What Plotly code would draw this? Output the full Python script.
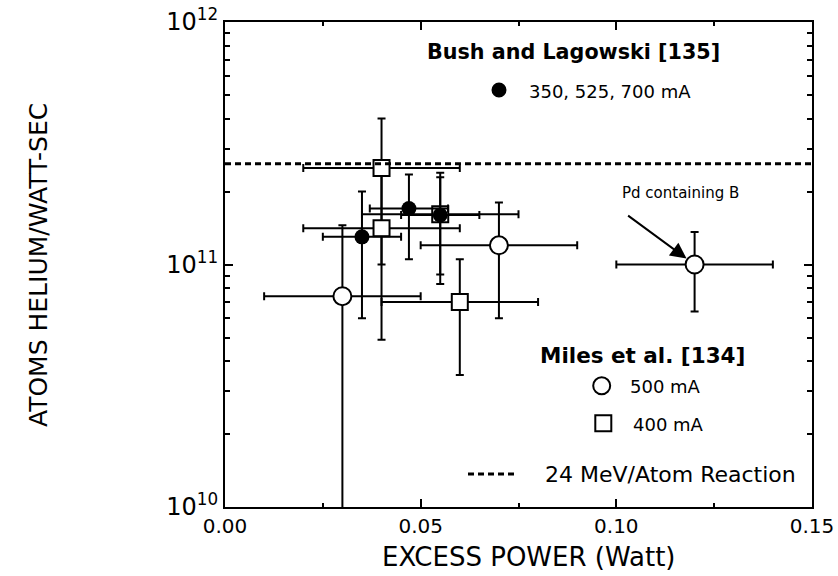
import numpy as np
import plotly.graph_objects as go

# ---- data ----
bush_x = [0.035, 0.047, 0.055]
bush_y = [1.30e11, 1.70e11, 1.60e11]
bush_ex = [0.01, 0.01, 0.01]
bush_ey = [0.70e11, 0.65e11, 0.69e11]

miles500_x = [0.030, 0.070, 0.120]
miles500_y = [7.4e10, 1.20e11, 1.00e11]
miles500_ex = [0.02, 0.02, 0.02]
miles500_ey = [7.1e10, 0.60e11, 0.36e11]

miles400_x = [0.040, 0.040, 0.055, 0.060]
miles400_y = [2.50e11, 1.41e11, 1.61e11, 7.0e10]
miles400_ex = [0.02, 0.02, 0.02, 0.02]
miles400_ey = [1.50e11, 0.92e11, 0.78e11, 0.35e11]

reaction_x = [0.0, 0.15]
reaction_y = [2.6e11, 2.6e11]

x_tickvals = [0.0, 0.05, 0.10, 0.15]
x_ticktext = ["0.00", "0.05", "0.10", "0.15"]
y_tickvals = [1e10, 1e11, 1e12]
y_ticktext = ["10<sup>10</sup>", "10<sup>11</sup>", "10<sup>12</sup>"]
y_minor = [m * 10.0 ** e for e in (10, 11) for m in range(2, 10)]

FONT = "DejaVu Sans"

fig = go.Figure()

def err(arr, thick=2, w=4):
    return dict(type="data", array=arr, visible=True, color="black",
                thickness=thick, width=w)

fig.add_trace(go.Scatter(
    x=miles400_x, y=miles400_y, mode="markers",
    error_x=err(miles400_ex), error_y=err(miles400_ey),
    marker=dict(symbol="square", size=16, color="white",
                line=dict(color="black", width=2)),
    showlegend=False))
fig.add_trace(go.Scatter(
    x=miles500_x, y=miles500_y, mode="markers",
    error_x=err(miles500_ex), error_y=err(miles500_ey),
    marker=dict(symbol="circle", size=18, color="white",
                line=dict(color="black", width=2)),
    showlegend=False))
fig.add_trace(go.Scatter(
    x=bush_x, y=bush_y, mode="markers",
    error_x=err(bush_ex), error_y=err(bush_ey),
    marker=dict(symbol="circle", size=15, color="black",
                line=dict(color="black", width=0)),
    showlegend=False))
fig.add_trace(go.Scatter(
    x=reaction_x, y=reaction_y, mode="lines",
    line=dict(color="black", width=3, dash="6px,4px"),
    showlegend=False))

axis_common = dict(showline=True, linecolor="black", linewidth=2,
                   mirror="allticks", ticks="inside", ticklen=8,
                   tickwidth=2, tickcolor="black", showgrid=False,
                   zeroline=False)

fig.update_xaxes(range=[0, 0.15], tickmode="array", tickvals=x_tickvals,
                 ticktext=x_ticktext, ticklabelstandoff=0,
                 tickfont=dict(family=FONT, size=20, color="black"),
                 minor=dict(tickvals=[0.025, 0.075, 0.125], ticks="inside",
                            ticklen=4, tickwidth=1.5, tickcolor="black"),
                 **axis_common)
fig.update_yaxes(type="log", range=[10, 12], tickmode="array",
                 tickvals=y_tickvals, ticktext=y_ticktext,
                 tickfont=dict(family=FONT, size=24, color="black"),
                 minor=dict(tickvals=y_minor, ticks="inside", ticklen=5,
                            tickwidth=1.5, tickcolor="black"),
                 **axis_common)

L, R, T, B = 225, 26, 22, 69
W, H = 838, 576
pw, ph = W - L - R, H - T - B

def px(x):
    return (x - L) / pw

def py(y):
    return (H - B - y) / ph

def txt(text, x, y, size, anchor="center", bold=False, angle=0):
    f = dict(family=FONT, size=size, color="black")
    if bold:
        f["weight"] = "bold"
    return dict(text=text, x=px(x), y=py(y), xref="paper", yref="paper",
                showarrow=False, xanchor=anchor, yanchor="middle",
                textangle=angle, font=f)

ann = [
    txt("Bush and Lagowski [135]", 573, 52, 20.7, bold=True),
    txt("350, 525, 700 mA", 527, 91.7, 18, anchor="left"),
    txt("Miles et al. [134]", 642.5, 355, 21.5, bold=True),
    txt("500 mA", 628, 386, 18, anchor="left"),
    txt("400 mA", 631, 425, 18, anchor="left"),
    txt("24 MeV/Atom Reaction", 543, 474, 22, anchor="left"),
    txt("Pd containing B", 680, 193, 15),
    txt("EXCESS POWER (Watt)", 528, 557, 26),
    txt("ATOMS HELIUM/WATT-SEC", 38, 265, 25, angle=-90),
]
ann.append(dict(text="", x=miles500_x[2], y=float(np.log10(miles500_y[2])),
                xref="x", yref="y", showarrow=True, ax=-68, ay=-50,
                arrowhead=2, arrowsize=1.6, arrowwidth=2, arrowcolor="black",
                standoff=10))

shapes = []
# legend keys
shapes.append(dict(type="circle", xref="paper", yref="paper",
                   xsizemode="pixel", ysizemode="pixel",
                   xanchor=px(499), yanchor=py(90),
                   x0=-7.5, x1=7.5, y0=-7.5, y1=7.5,
                   fillcolor="black", line=dict(color="black", width=0)))
shapes.append(dict(type="circle", xref="paper", yref="paper",
                   xsizemode="pixel", ysizemode="pixel",
                   xanchor=px(601.7), yanchor=py(385.7),
                   x0=-8.5, x1=8.5, y0=-8.5, y1=8.5,
                   fillcolor="white", line=dict(color="black", width=2)))
shapes.append(dict(type="rect", xref="paper", yref="paper",
                   xsizemode="pixel", ysizemode="pixel",
                   xanchor=px(603.3), yanchor=py(423.3),
                   x0=-8, x1=8, y0=-8, y1=8,
                   fillcolor="white", line=dict(color="black", width=2)))
shapes.append(dict(type="line", xref="paper", yref="paper",
                   x0=px(468), x1=px(517), y0=py(474), y1=py(474),
                   line=dict(color="black", width=3, dash="6px,4px")))

fig.update_layout(
    width=W, height=H,
    margin=dict(l=L, r=R, t=T, b=B, autoexpand=False),
    plot_bgcolor="white", paper_bgcolor="white",
    font=dict(family=FONT, color="black"),
    annotations=ann, shapes=shapes, showlegend=False,
)

fig.write_html("out.html")
